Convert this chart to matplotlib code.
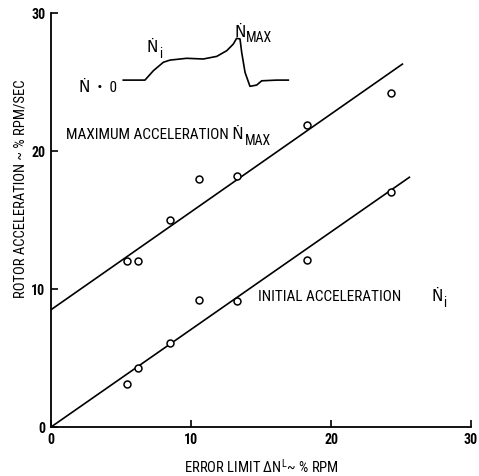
#!/usr/bin/env python3

import matplotlib

matplotlib.use("Agg")

import matplotlib.pyplot as plt
from matplotlib import font_manager


# measured points, % RPM vs % RPM/SEC
ERROR_LIMIT = [5.4, 6.2, 8.5, 10.6, 13.3, 18.3, 24.3]
MAX_ACCEL = [12.0, 12.0, 15.0, 18.0, 18.2, 21.9, 24.2]
INITIAL_ACCEL = [3.1, 4.3, 6.1, 9.2, 9.1, 12.1, 17.0]

# straight fits drawn through each set
MAX_FIT_X = [0.0, 25.1]
MAX_FIT_Y = [8.5, 26.3]
INITIAL_FIT_X = [0.0, 25.6]
INITIAL_FIT_Y = [0.0, 18.1]

# sketch of the acceleration trace in the upper left
TRACE_X = [5.16, 6.71, 7.31, 8.02, 8.5, 9.69, 10.88, 11.84, 12.55, 13.02,
           13.26, 13.5, 13.62, 13.86, 14.21, 14.69, 15.05, 16.12, 16.95]
TRACE_Y = [25.14, 25.14, 25.82, 26.43, 26.59, 26.72, 26.67, 26.86, 27.27, 27.75,
           28.17, 28.12, 27.15, 25.7, 24.69, 24.78, 25.09, 25.14, 25.14]

TICKS = [0, 10, 20, 30]


def pick_font() -> str:
    names = {f.name for f in font_manager.fontManager.ttflist}
    for name in ("Liberation Sans Narrow", "Roboto Condensed", "DejaVu Sans Condensed",
                 "Liberation Sans"):
        if name in names:
            return name
    return "DejaVu Sans"


FONT = pick_font()
plt.rcParams["font.family"] = [FONT, "DejaVu Sans"]
plt.rcParams["mathtext.fontset"] = "custom"
plt.rcParams["mathtext.rm"] = FONT
plt.rcParams["mathtext.it"] = FONT
plt.rcParams["mathtext.bf"] = f"{FONT}:bold"

fig = plt.figure(figsize=(4.79, 4.76), dpi=100)
ax = fig.add_axes([0.1065, 0.1029, 0.8768, 0.8697])
ax.set_xlim(0, 30)
ax.set_ylim(0, 30)
renderer = fig.canvas.get_renderer()

ax.plot(MAX_FIT_X, MAX_FIT_Y, color="black", linewidth=1.2)
ax.plot(INITIAL_FIT_X, INITIAL_FIT_Y, color="black", linewidth=1.2)
ax.plot(ERROR_LIMIT, MAX_ACCEL, "o", markersize=5, markerfacecolor="white",
        markeredgecolor="black", markeredgewidth=1.1)
ax.plot(ERROR_LIMIT, INITIAL_ACCEL, "o", markersize=5, markerfacecolor="white",
        markeredgecolor="black", markeredgewidth=1.1)
ax.plot(TRACE_X, TRACE_Y, color="black", linewidth=1.2)

text_style = dict(fontsize=11, ha="left", va="baseline")


def label_with_sub(x, y, text, sub):
    # Ṅ is drawn as plain text so the font fallback can find it
    t = ax.text(x, y, text, **text_style)
    right = t.get_window_extent(renderer).x1
    x_end = ax.transData.inverted().transform((right, 0))[0]
    ax.annotate(sub, xy=(x_end, y), xytext=(0.3, -4.0), textcoords="offset points",
                fontsize=10, ha="left", va="baseline")


ax.text(2.0, 24.3, "Ṅ  •  0", **text_style)
label_with_sub(6.85, 27.15, "Ṅ", "i")
label_with_sub(13.1, 28.3, "Ṅ", "MAX")
label_with_sub(1.1, 20.85, "MAXIMUM ACCELERATION Ṅ", "MAX")
ax.text(14.8, 9.1, "INITIAL ACCELERATION", **text_style)
label_with_sub(27.2, 9.1, "Ṅ", "i")

ax.set_xticks(TICKS)
ax.set_yticks(TICKS)
ax.set_xticklabels([str(t) for t in TICKS], fontweight="bold", fontsize=10)
ax.set_yticklabels([str(t) for t in TICKS], fontweight="bold", fontsize=10)
ax.tick_params(direction="in", length=5, width=1.2, pad=4)

for side in ("top", "right"):
    ax.spines[side].set_visible(False)
for side in ("left", "bottom"):
    ax.spines[side].set_linewidth(1.3)

ax.set_xlabel(r"ERROR LIMIT ΔN$^{\mathrm{L}}$~ % RPM", fontsize=10.5, labelpad=8)
ax.set_ylabel("ROTOR ACCELERATION ~ % RPM/SEC", fontsize=10.5)
ax.yaxis.set_label_coords(-0.055, 0.575)

fig.savefig("out.png", dpi=100)
plt.close(fig)
